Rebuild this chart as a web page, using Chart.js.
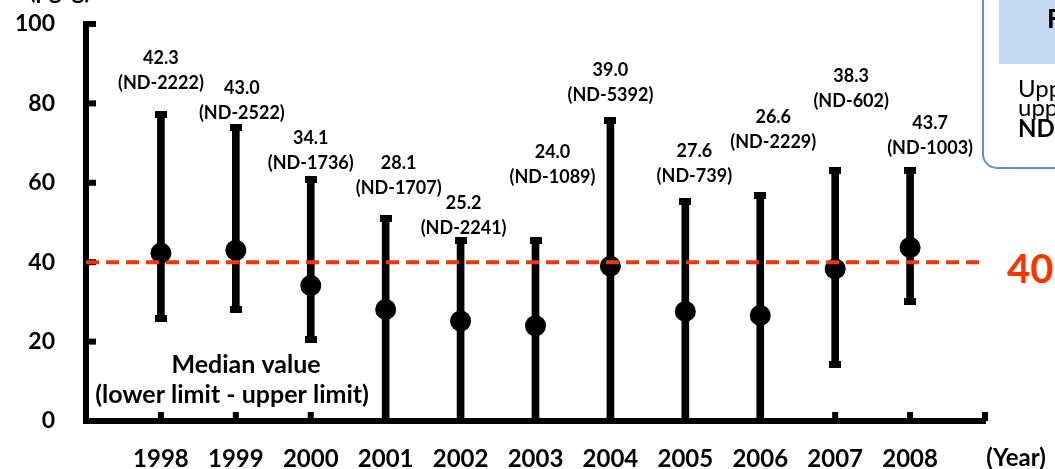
<!DOCTYPE html>
<html>
<head>
<meta charset="utf-8">
<script src="https://cdn.jsdelivr.net/npm/chart.js@4.4.0/dist/chart.umd.min.js"></script>
<style>
  body { margin: 0; background: #fff; }
  #wrap { width: 1055px; height: 469px; }
</style>
</head>
<body>
<div id="wrap"><canvas id="myChart" width="1055" height="469"></canvas></div>
<script>
// values
var years = ['1998', '1999', '2000', '2001', '2002', '2003', '2004', '2005', '2006', '2007', '2008'];
var medians = [42.3, 43.0, 34.1, 28.1, 25.2, 24.0, 39.0, 27.6, 26.6, 38.3, 43.7];
var barLow = [25.7, 28.2, 20.5, 0, 0, 0, 0, 0, 0, 14.2, 30.0];
var barHigh = [77.3, 74.0, 60.8, 51.0, 45.5, 45.5, 75.7, 55.3, 56.8, 63.1, 63.0];
var upperLimit = ['2222', '2522', '1736', '1707', '2241', '1089', '5392', '739', '2229', '602', '1003'];
var yTicks = [0, 20, 40, 60, 80, 100];
var guideValue = 40;

// where each label sits, relative to the top of its whisker (px)
var labelShift = [[0, -56], [6, -39], [0, -41], [13, -55], [3, -37], [17, -88], [0, -50], [9, -50], [13, -78], [16, -94], [20, -48]];

var FONT = 'Lato';
var RED = '#ff3300';

function makeCap(w, h) {
  var c = document.createElement('canvas');
  c.width = w; c.height = h;
  var g = c.getContext('2d');
  g.fillStyle = '#000';
  g.fillRect(0, 0, w, h);
  return c;
}
var cap = makeCap(12, 7);

var capPoints = [];
years.forEach(function(y, i) {
  capPoints.push({x: i + 1, y: barHigh[i]});
  if (barLow[i] > 0) capPoints.push({x: i + 1, y: barLow[i]});
});

function noPad(s) {
  s.paddingLeft = 0; s.paddingRight = 0; s.paddingTop = 0; s.paddingBottom = 0;
}

var decor = {
  id: 'decor',
  beforeDatasetsDraw: function(chart) {
    var ctx = chart.ctx, xs = chart.scales.x, ys = chart.scales.y;
    var base = ys.getPixelForValue(0);
    ctx.save();
    ctx.fillStyle = '#000';
    for (var i = 1; i <= years.length + 1; i++) {
      var px = xs.getPixelForValue(i);
      ctx.fillRect(px - 3, base - 9, 6, 9);
    }
    yTicks.forEach(function(v) {
      if (v === 0) return;
      var py = ys.getPixelForValue(v);
      ctx.fillRect(xs.left, py - 3, 10, 6);
    });
    ctx.restore();
  },
  afterDatasetsDraw: function(chart) {
    var ctx = chart.ctx, xs = chart.scales.x, ys = chart.scales.y;
    ctx.save();
    ctx.fillStyle = '#000';
    ctx.textAlign = 'center';
    ctx.textBaseline = 'middle';
    ctx.font = 'bold 18px ' + FONT;
    years.forEach(function(y, i) {
      var px = xs.getPixelForValue(i + 1) + labelShift[i][0];
      var py = ys.getPixelForValue(barHigh[i]) + labelShift[i][1];
      ctx.fillText(medians[i].toFixed(1), px, py);
      ctx.fillText('(ND-' + upperLimit[i] + ')', px, py + 25);
    });

    // legend note
    ctx.font = 'bold 25px ' + FONT;
    var nx = xs.getPixelForValue(1.95), ny = ys.getPixelForValue(14.1);
    ctx.fillText('Median value', nx + 14, ny);
    ctx.fillText('(lower limit - upper limit)', nx, ny + 30);

    // guide value label
    ctx.fillStyle = RED;
    ctx.textAlign = 'left';
    ctx.font = 'bold 40px ' + FONT;
    ctx.fillText('40pg/g', xs.right + 22, ys.getPixelForValue(guideValue) + 8);

    // axis titles
    ctx.fillStyle = '#000';
    ctx.font = 'bold 24px ' + FONT;
    ctx.textAlign = 'center';
    ctx.fillText('(Year)', xs.right + 31, 458);
    ctx.textBaseline = 'alphabetic';
    ctx.fillText('(pg/g)', 60, -1);

    // side box (cut off by the edge)
    ctx.strokeStyle = '#5b8fd6';
    ctx.lineWidth = 2;
    ctx.beginPath();
    ctx.roundRect(983, -30, 120, 198, 14);
    ctx.stroke();
    ctx.fillStyle = '#c6d9f1';
    ctx.fillRect(999, 0, 60, 64);
    ctx.fillStyle = '#000';
    ctx.textAlign = 'left';
    ctx.font = 'bold 26px ' + FONT;
    ctx.fillText('Fig', 1047, 28);
    ctx.font = '24px ' + FONT;
    ctx.fillText('Upper', 1018, 97);
    ctx.fillText('upper', 1018, 116);
    ctx.font = 'bold 24px ' + FONT;
    ctx.fillText('ND', 1018, 137);
    ctx.restore();
  }
};

var config = {
  data: {
    datasets: [
      {
        type: 'line',
        data: [{x: 0, y: guideValue}, {x: 12, y: guideValue}],
        borderColor: RED,
        borderWidth: 4,
        borderDash: [13, 7],
        pointRadius: 0
      },
      {
        type: 'scatter',
        data: medians.map(function(v, i) { return {x: i + 1, y: v}; }),
        pointStyle: 'circle',
        pointRadius: 10.5,
        backgroundColor: '#000',
        borderWidth: 0
      },
      {
        type: 'scatter',
        data: capPoints,
        pointStyle: cap
      },
      {
        type: 'bar',
        data: years.map(function(y, i) { return {x: i + 1, y: [barLow[i], barHigh[i]]}; }),
        backgroundColor: '#000',
        borderWidth: 0,
        barThickness: 7
      }
    ]
  },
  options: {
    responsive: false,
    animation: false,
    layout: { padding: { top: 24, right: 70, left: 0, bottom: 0 } },
    plugins: { legend: { display: false }, tooltip: { enabled: false } },
    scales: {
      x: {
        type: 'linear',
        offset: false,
        min: 0,
        max: 12,
        afterBuildTicks: function(s) { s.ticks = years.map(function(y, i) { return {value: i + 1}; }); },
        afterFit: function(s) { s.height = 48; noPad(s); },
        grid: { display: false, drawTicks: false },
        border: { color: '#000', width: 6 },
        ticks: {
          autoSkip: false,
          maxRotation: 0,
          padding: 24,
          color: '#000',
          font: { family: FONT, size: 24, weight: 'bold' },
          callback: function(v) { return years[v - 1] || ''; }
        }
      },
      y: {
        min: 0,
        max: 100,
        afterBuildTicks: function(s) { s.ticks = yTicks.map(function(v) { return {value: v}; }); },
        afterFit: function(s) { s.width = 86; noPad(s); },
        grid: { display: false, drawTicks: false },
        border: { color: '#000', width: 6 },
        ticks: {
          padding: 31,
          color: '#000',
          font: { family: FONT, size: 23, weight: 'bold' }
        }
      }
    }
  },
  plugins: [decor]
};

new Chart(document.getElementById('myChart'), config);
</script>
</body>
</html>
